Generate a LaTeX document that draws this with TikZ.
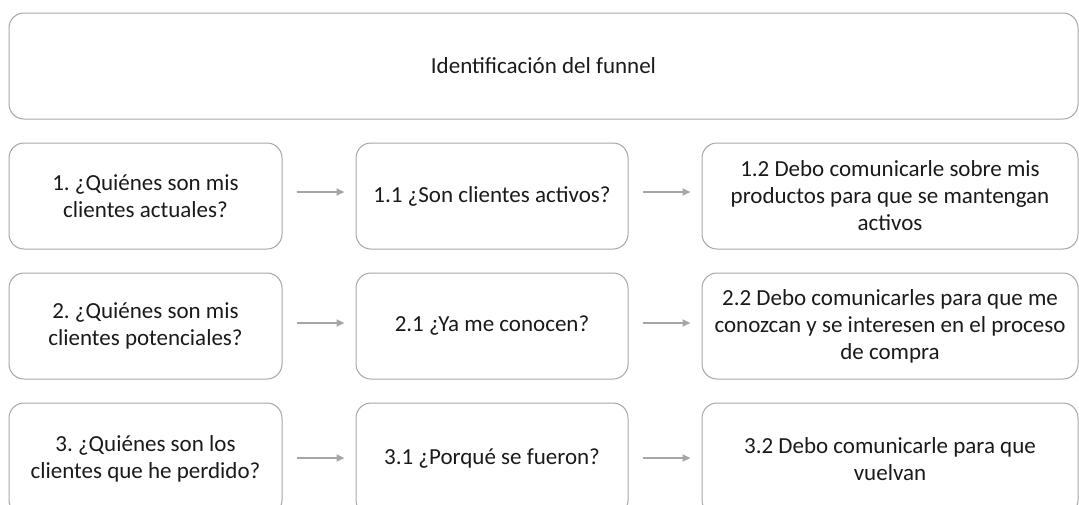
\documentclass[tikz,border=0pt]{standalone}
\usepackage{fontspec}
\setmainfont{Carlito}
\frenchspacing
\usetikzlibrary{arrows.meta}
\definecolor{boxgray}{HTML}{A6A6A6}
\definecolor{arrgray}{HTML}{A6A6A6}
\definecolor{txt}{HTML}{1A1A1A}
\begin{document}
\begin{tikzpicture}[x=1pt,y=-1pt,
  box/.style={draw=boxgray, line width=1pt, rounded corners=15pt, inner sep=0pt,
    align=center, text=txt, font=\fontsize{23}{27}\selectfont},
  arr/.style={draw=arrgray, line width=2pt, -{Triangle[length=8pt,width=7pt]},
    shorten <=14pt, shorten >=11pt}
]
\useasboundingbox (0,0) rectangle (1079,504);
\clip (0,0) rectangle (1079,504);
\node[box, minimum width=1069pt, minimum height=106pt] (top) at (543.5,66) {Identificación del funnel};

\node[box, minimum width=273pt, minimum height=106pt] (a1) at (145.5,196) {1. ¿Quiénes son mis\\clientes actuales?};
\node[box, minimum width=272pt, minimum height=106pt] (b1) at (492,196) {1.1 ¿Son clientes activos?};
\node[box, minimum width=376pt, minimum height=106pt] (c1) at (890,196) {1.2 Debo comunicarle sobre mis\\productos para que se mantengan\\activos};

\node[box, minimum width=273pt, minimum height=106pt] (a2) at (145.5,326) {2. ¿Quiénes son mis\\clientes potenciales?};
\node[box, minimum width=272pt, minimum height=106pt] (b2) at (492,326) {2.1 ¿Ya me conocen?};
\node[box, minimum width=376pt, minimum height=106pt] (c2) at (890,326) {2.2 Debo comunicarles para que me\\conozcan y se interesen en el proceso\\de compra};

\node[box, minimum width=273pt, minimum height=112pt] (a3) at (145.5,459) {3. ¿Quiénes son los\\clientes que he perdido?};
\node[box, minimum width=272pt, minimum height=112pt] (b3) at (492,459) {3.1 ¿Porqué se fueron?};
\node[box, minimum width=376pt, minimum height=112pt] (c3) at (890,459) {3.2 Debo comunicarle para que\\vuelvan};

\draw[arr] ([yshift=4pt]a1.east) -- ([yshift=4pt]b1.west);
\draw[arr] ([yshift=4pt]b1.east) -- ([yshift=4pt]c1.west);
\draw[arr] ([yshift=3pt]a2.east) -- ([yshift=3pt]b2.west);
\draw[arr] ([yshift=3pt]b2.east) -- ([yshift=3pt]c2.west);
\draw[arr] ([yshift=1pt]a3.east) -- ([yshift=1pt]b3.west);
\draw[arr] ([yshift=1pt]b3.east) -- ([yshift=1pt]c3.west);
\end{tikzpicture}
\end{document}
